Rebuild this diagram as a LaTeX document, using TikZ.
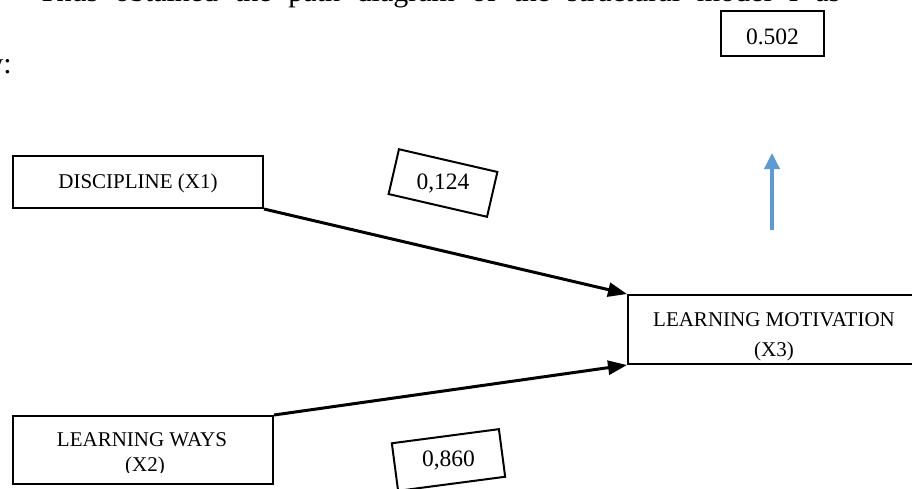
\documentclass[tikz,border=0pt]{standalone}
\usepackage{fontspec}
\setmainfont{Liberation Serif}
\usetikzlibrary{arrows.meta}
\definecolor{wordblue}{RGB}{91,155,213}
\tikzset{
  box/.style={draw=black, line width=2pt, inner sep=0pt, fill=none},
  lbl/.style={inner sep=0pt, font=\fontsize{21}{25}\selectfont},
  num/.style={inner sep=0pt, font=\fontsize{23.5}{28}\selectfont},
  conn/.style={draw=black, line width=3pt, -{Triangle[length=19pt,width=14pt]}},
  blueconn/.style={draw=wordblue, line width=3.5pt, -{Triangle[length=16pt,width=15pt]}},
  body/.style={inner sep=0pt, font=\fontsize{30}{36}\selectfont}
}
\begin{document}
\begin{tikzpicture}[x=1pt,y=-1pt]
\useasboundingbox (0,0) rectangle (912,488);
\clip (0,0) rectangle (912,488);
% running text (cut off)
\node[body, anchor=base west] (t1) at (38,1) {\makebox[802pt][s]{Thus obtained the path diagram of the structural model I as}};
\node[body, anchor=base east] (t2) at (12,73) {y:};
% R square box
\node[box, line width=2.6pt, minimum width=103pt, minimum height=45pt] (r) at (772.5,33.5) {};
\node[num, anchor=base] (rt) at (772.5,44) {0.502};
% DISCIPLINE
\node[box, minimum width=250pt, minimum height=52pt] (d) at (138,182) {};
\node[lbl, anchor=base] (dt) at (138,188.3) {DISCIPLINE (X1)};
% LEARNING WAYS
\node[box, minimum width=260pt, minimum height=68pt] (lw) at (143,450) {};
\begin{scope}
\clip (15,418) rectangle (271,472);
\node[lbl, anchor=base] (lwt1) at (142,446) {LEARNING WAYS};
\node[lbl, anchor=base] (lwt2) at (145,471) {(X2)};
\end{scope}
% LEARNING MOTIVATION
\node[box, minimum width=292pt, minimum height=69pt] (lm) at (774,329.5) {};
\node[lbl, anchor=base] (lmt1) at (774,326) {LEARNING MOTIVATION};
\node[lbl, anchor=base] (lmt2) at (774,356) {(X3)};
% coefficients
\node[box, rotate=-13, minimum width=101pt, minimum height=46pt] (c1) at (443,183) {};
\node[num] (c1t) at (c1) {0,124};
\node[box, rotate=7.5, minimum width=108pt, minimum height=48pt] (c2) at (448.5,460) {};
\node[num] (c2t) at (c2) {0,860};
% connectors
\draw[conn] (d.south east) -- (lm.north west);
\draw[conn] (lw.north east) -- (lm.south west);
\coordinate (b1) at (772,230);
\coordinate (b2) at (772,153);
\draw[blueconn] (b1) -- (b2);
\end{tikzpicture}
\end{document}
